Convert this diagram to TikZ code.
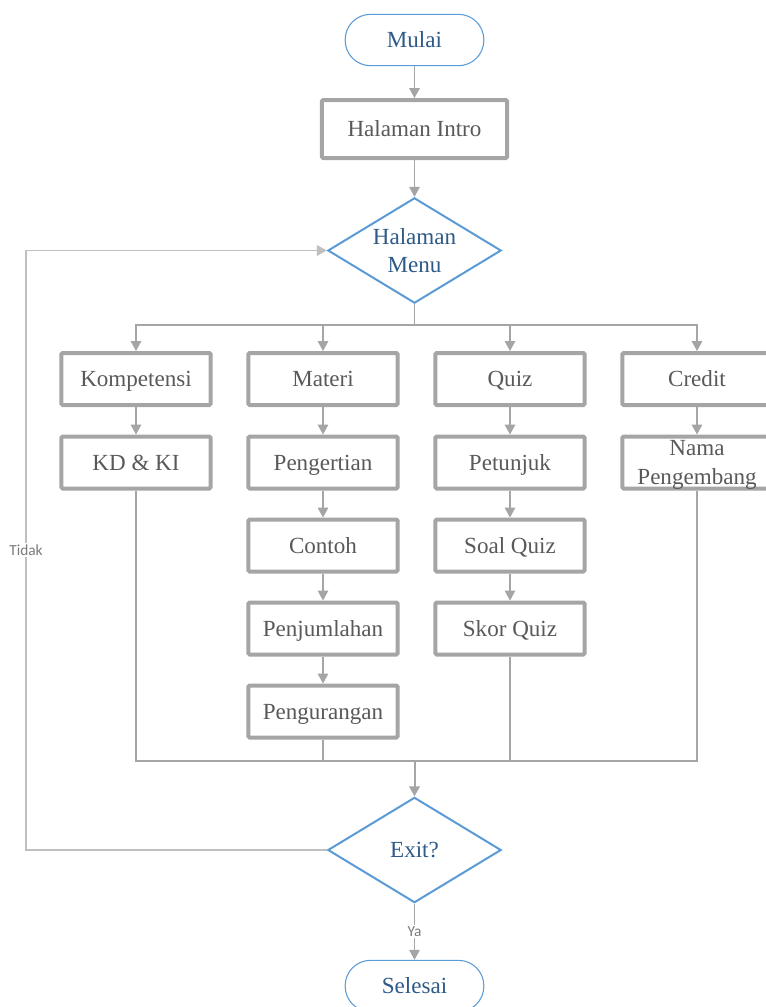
\documentclass[tikz,border=0pt]{standalone}
\usepackage{fontspec}
\setmainfont{Liberation Serif}
\newfontfamily\labelfont{Carlito}
\usetikzlibrary{arrows.meta,shapes.geometric}
\definecolor{boxgray}{HTML}{A5A5A5}
\definecolor{textgray}{HTML}{595959}
\definecolor{flowblue}{HTML}{5B9BD5}
\definecolor{darkblue}{HTML}{2E5A88}
\definecolor{loopgray}{HTML}{BFBFBF}
\begin{document}
\begin{tikzpicture}[x=0.75pt, y=-0.75pt,
    every node/.style={font=\fontsize{17.3}{21.5}\selectfont},
    box/.style={draw=boxgray, line width=3pt, rounded corners=1pt, text=textgray,
      minimum width=112pt, minimum height=39pt, inner sep=0pt, align=center,
      text height=11.5pt, text depth=0pt},
    term/.style={draw=flowblue, line width=0.8pt, rounded corners=19pt, text=darkblue,
      minimum width=104pt, minimum height=38.5pt, inner sep=0pt, text height=11.5pt, text depth=0pt},
    decide/.style={diamond, draw=flowblue, line width=1.5pt, text=darkblue, aspect=1.66,
      inner sep=0pt, minimum width=130pt, minimum height=79pt, align=center},
    link/.style={draw=boxgray, line width=0.8pt},
    arr/.style={link, -{Triangle[length=7.5pt,width=8pt]}},
    lbl/.style={font=\labelfont\fontsize{11.5}{13}\selectfont, text=textgray!80, fill=white, inner sep=1pt}]
  \useasboundingbox (0,0) rectangle (766,1007);
  % start and menu
  \node[term] (mulai) at (414.5, 40) {Mulai};
  \node[box, minimum width=139pt, minimum height=43.5pt] (intro) at (414.5, 129) {Halaman Intro};
  \node[decide] (menu) at (414.5, 250.5) {Halaman\\Menu};
  % first row
  \node[box] (komp) at (136, 379) {Kompetensi};
  \node[box] (materi) at (323, 379) {Materi};
  \node[box] (quiz) at (510, 379) {Quiz};
  \node[box] (credit) at (697, 379) {Credit};
  % columns
  \node[box] (kdki) at (136, 462.5) {KD \& KI};
  \node[box] (pengertian) at (323, 462.5) {Pengertian};
  \node[box] (contoh) at (323, 545.5) {Contoh};
  \node[box] (penjumlahan) at (323, 628.5) {Penjumlahan};
  \node[box] (pengurangan) at (323, 711.5) {Pengurangan};
  \node[box] (petunjuk) at (510, 462.5) {Petunjuk};
  \node[box] (soal) at (510, 545.5) {Soal Quiz};
  \node[box] (skor) at (510, 628.5) {Skor Quiz};
  \node[box, text height=33pt] (nama) at (697, 462.5) {Nama\\Pengembang};
  % end
  \node[decide] (exit) at (414.5, 850) {Exit?};
  \node[term] (selesai) at (414.5, 986) {Selesai};
  \coordinate (busT) at (414.5, 325);
  \coordinate (busB) at (414.5, 761);
  \coordinate (loopL) at (26, 550);

  \draw[arr] (mulai) -- (intro);
  \draw[arr] (intro) -- (menu);
  \draw[link] (menu.south) -- (busT);
  \foreach \n in {komp,materi,quiz,credit}
    \draw[arr] (busT) -| (\n.north);
  \draw[arr] (komp) -- (kdki);
  \draw[arr] (materi) -- (pengertian);
  \draw[arr] (pengertian) -- (contoh);
  \draw[arr] (contoh) -- (penjumlahan);
  \draw[arr] (penjumlahan) -- (pengurangan);
  \draw[arr] (quiz) -- (petunjuk);
  \draw[arr] (petunjuk) -- (soal);
  \draw[arr] (soal) -- (skor);
  \draw[arr] (credit) -- (nama);
  \foreach \n in {kdki,pengurangan,skor,nama}
    \draw[link] (\n.south) |- (busB);
  \draw[arr, line width=1.5pt] (busB) -- (exit.north);
  \draw[arr, draw=loopgray, line width=1.2pt] (exit.west) -| (loopL) node[lbl]{Tidak} |- (menu.west);
  \draw[arr] (exit.south) -- node[lbl]{Ya} (selesai.north);
\end{tikzpicture}
\end{document}
